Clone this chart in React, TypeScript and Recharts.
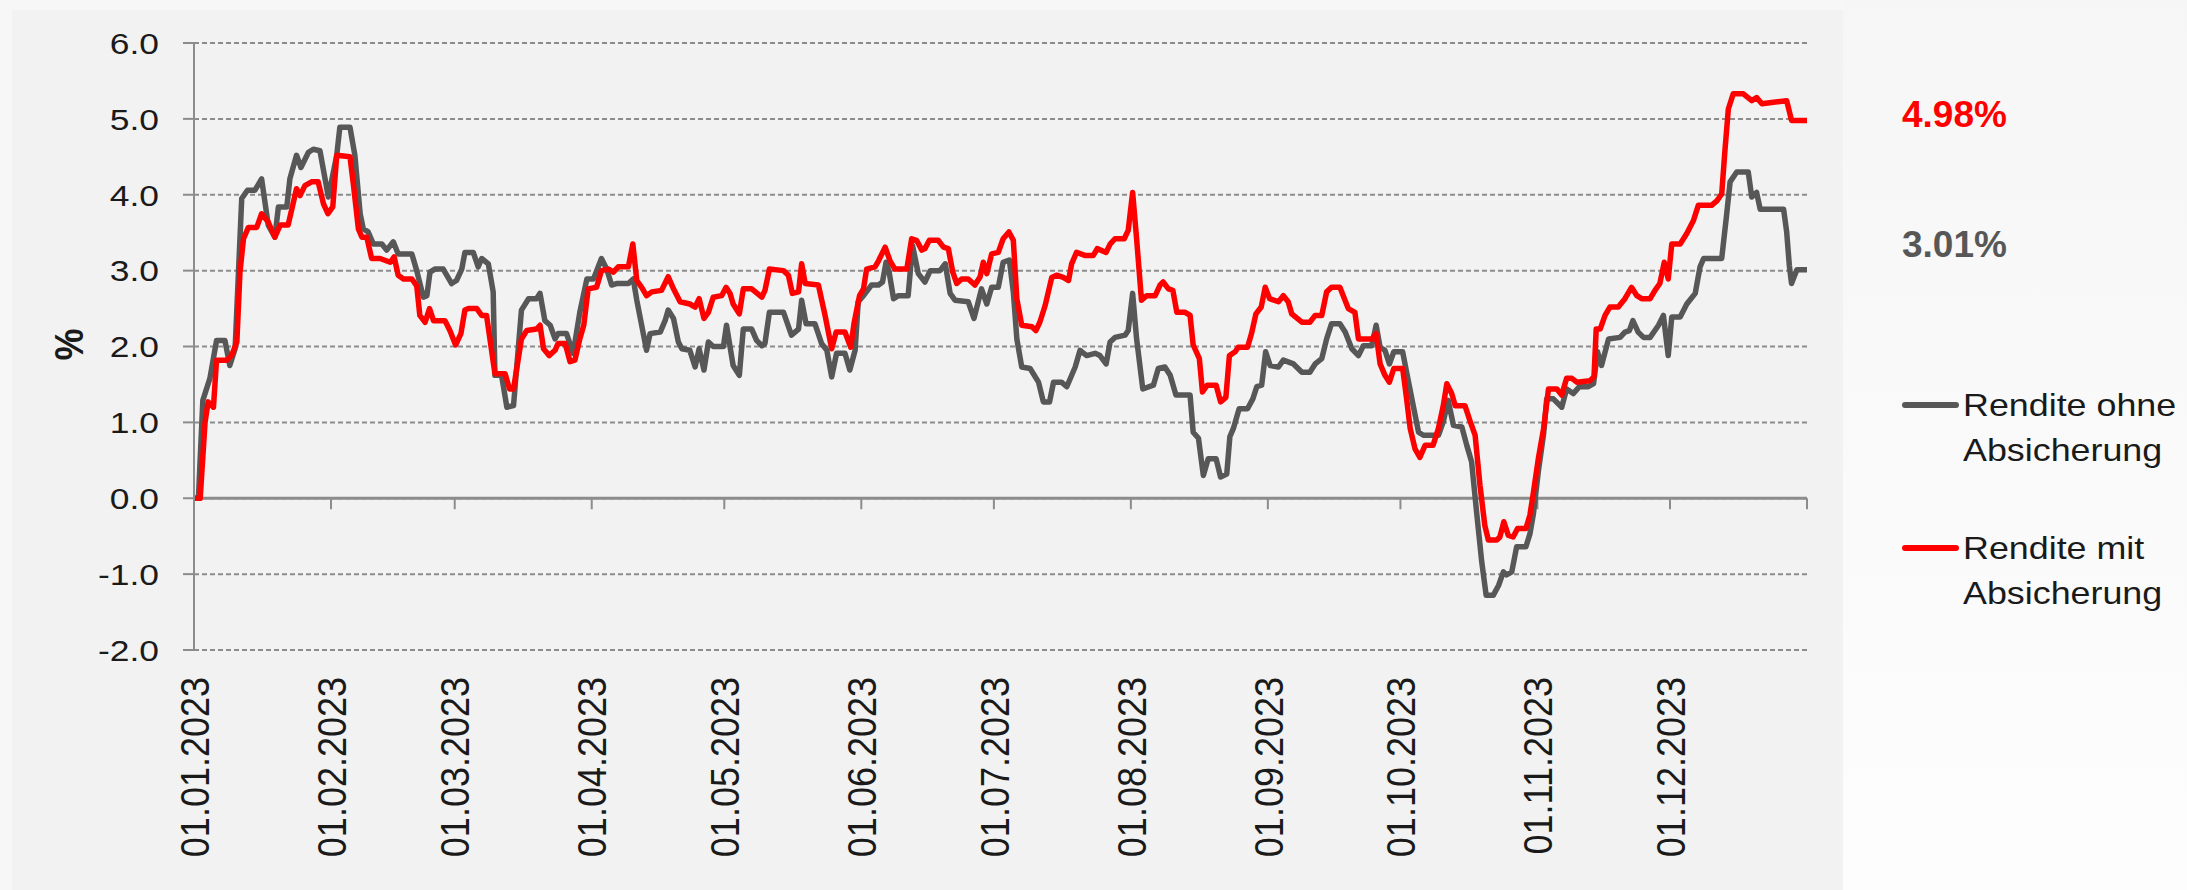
import React from 'react';
import { LineChart, Line, XAxis, YAxis, CartesianGrid, ReferenceLine } from 'recharts';

const FONT = '"Liberation Sans", Arial, Helvetica, sans-serif';

// x axis: day of year 2023, ticks at the first of each month
const monthTicks = [0, 31, 59, 90, 120, 151, 181, 212, 243, 273, 304, 334];
const monthLabels = [
  '01.01.2023', '01.02.2023', '01.03.2023', '01.04.2023', '01.05.2023', '01.06.2023',
  '01.07.2023', '01.08.2023', '01.09.2023', '01.10.2023', '01.11.2023', '01.12.2023',
];
const tickMarks = [...monthTicks, 365];
const yTicks = [-2, -1, 0, 1, 2, 3, 4, 5, 6];

const seriesNames = ['Rendite ohne Absicherung', 'Rendite mit Absicherung'];
const seriesColors = ['#575757', '#ff0000'];

// [day, return in %]
const ohne: [number, number][] = [
  [0, 0], [1, 0], [2, 1.29], [3.6, 1.58], [5.1, 2.08], [7, 2.08], [8.1, 1.75], [9.3, 1.97],
  [10.8, 3.95], [12.1, 4.06], [13.8, 4.06], [15.3, 4.21], [16.8, 3.6], [18.3, 3.44], [19.1, 3.84],
  [21, 3.84], [21.7, 4.21], [23.2, 4.52], [24.2, 4.36], [25.9, 4.56], [27, 4.6], [28.5, 4.58],
  [30.4, 3.97], [32.3, 4.52], [33, 4.89], [35.3, 4.89], [36.4, 4.52], [37.6, 3.75], [38.3, 3.55],
  [39.4, 3.51], [40.6, 3.35], [42.5, 3.35], [43.6, 3.27], [45.1, 3.38], [46.2, 3.22], [49.3, 3.22],
  [50.4, 3.0], [51.9, 2.65], [52.7, 2.67], [53.4, 2.98], [54.5, 3.02], [56.4, 3.02], [58.3, 2.83],
  [59.4, 2.87], [60.6, 3.02], [61.3, 3.24], [63.2, 3.24], [64.3, 3.05], [65.1, 3.16], [66.6, 3.09],
  [67.7, 2.72], [68.1, 1.62], [69.6, 1.62], [70.8, 1.2], [72.3, 1.22], [74.1, 2.48], [75.7, 2.63],
  [77.5, 2.63], [78.3, 2.7], [79.4, 2.34], [80.6, 2.28], [81.7, 2.1], [82.4, 2.17], [84.3, 2.17],
  [85.8, 1.91], [87.3, 2.45], [88.9, 2.89], [90.4, 2.89], [92.2, 3.16], [93.4, 3.02], [94.5, 2.81],
  [95.6, 2.83], [98.3, 2.83], [99.4, 2.89], [100.2, 2.61], [101.3, 2.28], [102.4, 1.95], [103.2, 2.17],
  [105.5, 2.19], [106.6, 2.34], [107.3, 2.48], [108.5, 2.37], [109.6, 2.06], [110.4, 1.97], [112.2, 1.95],
  [113.4, 1.73], [114.3, 1.97], [115.4, 1.69], [116.4, 2.06], [117.5, 2.0], [119.8, 2.0], [120.5, 2.28],
  [122.0, 1.75], [123.4, 1.62], [124.3, 2.23], [126.2, 2.23], [127.3, 2.08], [128.5, 2.01], [129.2, 2.04],
  [130.2, 2.45], [133.4, 2.45], [135.2, 2.15], [136.8, 2.23], [137.5, 2.61], [138.5, 2.3], [140.5, 2.3],
  [142.0, 2.04], [143.2, 1.95], [144.3, 1.6], [145.4, 1.91], [147.3, 1.91], [148.4, 1.69], [149.6, 1.95],
  [150.3, 2.59], [151.5, 2.67], [153.3, 2.81], [154.9, 2.81], [155.8, 2.85], [156.6, 3.11], [157.3, 2.98],
  [158.3, 2.63], [159.4, 2.67], [161.6, 2.67], [162.6, 3.33], [163.9, 2.96], [165.4, 2.85], [166.6, 3.0],
  [168.8, 3.0], [170.0, 3.09], [171.1, 2.7], [172.2, 2.61], [175.2, 2.59], [176.5, 2.37], [178.2, 2.76],
  [179.4, 2.56], [180.5, 2.78], [182.0, 2.78], [183.1, 3.11], [184.5, 3.14], [185.4, 2.72], [186.2, 2.1],
  [187.3, 1.73], [189.2, 1.71], [191.1, 1.53], [192.2, 1.27], [193.6, 1.27], [194.5, 1.53], [196.3, 1.53],
  [197.5, 1.47], [199.4, 1.73], [200.5, 1.95], [202.0, 1.88], [203.9, 1.91], [205.0, 1.88], [206.4, 1.77],
  [207.3, 2.06], [208.4, 2.12], [210.7, 2.15], [211.4, 2.21], [212.4, 2.7], [213.3, 2.1], [214.7, 1.44],
  [217.1, 1.49], [218.2, 1.71], [219.7, 1.73], [220.9, 1.62], [222.2, 1.36], [225.4, 1.36], [226.1, 0.87],
  [227.3, 0.79], [228.4, 0.3], [229.5, 0.52], [231.3, 0.52], [232.3, 0.28], [233.7, 0.32], [234.4, 0.81],
  [235.2, 0.92], [236.5, 1.18], [238.4, 1.18], [239.6, 1.31], [240.5, 1.47], [241.6, 1.49], [242.5, 1.93],
  [243.5, 1.75], [245.4, 1.73], [246.5, 1.82], [248.8, 1.77], [250.7, 1.66], [252.5, 1.66], [253.7, 1.77],
  [255.2, 1.84], [256.3, 2.1], [257.4, 2.3], [259.3, 2.3], [260.5, 2.19], [262.0, 1.97], [263.5, 1.88],
  [264.6, 2.01], [266.5, 2.01], [267.5, 2.28], [268.4, 1.99], [269.5, 1.95], [270.5, 1.77], [271.5, 1.93],
  [273.5, 1.93], [274.4, 1.66], [275.9, 1.22], [277.1, 0.87], [278.2, 0.83], [281.6, 0.83], [282.7, 1.01],
  [283.8, 1.29], [285.0, 0.96], [286.9, 0.94], [288.0, 0.7], [289.1, 0.48], [290.3, -0.22], [291.4, -0.84],
  [292.4, -1.28], [294.0, -1.28], [295.2, -1.15], [296.3, -0.97], [297.0, -1.01], [298.2, -0.97], [299.3, -0.64],
  [301.4, -0.64], [302.3, -0.47], [303.1, -0.2], [304.2, 0.35], [305.4, 0.85], [306.1, 1.31], [307.6, 1.31],
  [309.5, 1.2], [310.6, 1.44], [312.1, 1.38], [313.5, 1.47], [315.5, 1.47], [316.7, 1.51], [317.6, 1.93],
  [318.5, 1.75], [320.1, 2.1], [322.7, 2.12], [323.8, 2.19], [324.8, 2.21], [325.6, 2.34], [326.8, 2.19],
  [328.0, 2.12], [329.5, 2.12], [331.4, 2.28], [332.5, 2.41], [333.6, 1.88], [334.4, 2.39], [336.3, 2.39],
  [337.8, 2.56], [339.7, 2.7], [340.8, 3.05], [341.6, 3.16], [345.7, 3.16], [346.8, 3.73], [347.6, 4.17],
  [349.1, 4.3], [351.7, 4.3], [352.5, 3.97], [353.6, 4.03], [354.4, 3.81], [359.7, 3.81], [360.4, 3.51],
  [361.0, 3.07], [361.5, 2.83], [362.7, 3.01], [365, 3.01],
];

const mit: [number, number][] = [
  [0, 0], [1.4, 0], [2.5, 1.0], [3.2, 1.27], [4.4, 1.2], [5.1, 1.82], [7.4, 1.82], [8.5, 1.88],
  [9.7, 2.06], [10.4, 2.98], [11.2, 3.42], [12.3, 3.57], [14.2, 3.57], [15.3, 3.75], [16.8, 3.64],
  [18.3, 3.44], [19.5, 3.6], [21.3, 3.6], [23.2, 4.08], [24.0, 3.99], [25.1, 4.12], [26.6, 4.17],
  [28.1, 4.17], [29.3, 3.88], [30.3, 3.75], [31.4, 3.84], [32.3, 4.52], [35.3, 4.5], [36.1, 4.12],
  [37.2, 3.55], [38.0, 3.44], [39.1, 3.44], [40.2, 3.16], [42.1, 3.16], [44.4, 3.11], [45.3, 3.18],
  [46.2, 2.94], [47.4, 2.89], [49.3, 2.89], [50.4, 2.8], [51.1, 2.41], [52.3, 2.32], [53.3, 2.5],
  [54.2, 2.34], [56.8, 2.34], [57.9, 2.21], [59.2, 2.02], [60.4, 2.17], [61.3, 2.48], [62.1, 2.5],
  [64.0, 2.5], [65.1, 2.41], [66.2, 2.41], [68.1, 1.64], [70.4, 1.64], [71.4, 1.44], [72.3, 1.44],
  [74.1, 2.1], [75.3, 2.21], [77.5, 2.23], [78.3, 2.28], [79.1, 1.97], [80.4, 1.88], [81.7, 1.95],
  [82.4, 2.04], [84.0, 2.04], [85.1, 1.8], [86.2, 1.82], [87.3, 2.1], [88.2, 2.28], [89.2, 2.76],
  [91.1, 2.78], [92.2, 3.0], [93.8, 3.02], [94.9, 2.98], [96.0, 3.05], [98.3, 3.05], [99.3, 3.35],
  [100.2, 2.87], [101.3, 2.78], [102.4, 2.67], [103.6, 2.72], [105.8, 2.74], [107.3, 2.92], [108.5, 2.76],
  [110.0, 2.59], [112.2, 2.56], [113.4, 2.52], [114.3, 2.63], [115.4, 2.37], [116.4, 2.45], [117.5, 2.65],
  [119.4, 2.67], [120.4, 2.78], [121.3, 2.7], [122.0, 2.56], [123.4, 2.43], [124.3, 2.76], [126.2, 2.76],
  [128.5, 2.65], [129.2, 2.74], [130.2, 3.02], [133.4, 3.0], [134.5, 2.94], [135.4, 2.7], [136.8, 2.72],
  [137.5, 3.09], [138.3, 2.83], [141.3, 2.81], [142.8, 2.41], [144.3, 1.97], [145.3, 2.19], [147.3, 2.19],
  [148.6, 1.99], [149.4, 2.32], [150.6, 2.67], [151.5, 2.76], [152.2, 3.02], [154.1, 3.05], [154.9, 3.13],
  [156.4, 3.31], [157.5, 3.13], [158.6, 3.02], [161.3, 3.02], [162.4, 3.42], [163.5, 3.4], [164.7, 3.27],
  [165.4, 3.29], [166.4, 3.4], [168.4, 3.4], [169.6, 3.31], [170.7, 3.29], [171.7, 2.98], [172.6, 2.83],
  [173.7, 2.89], [175.2, 2.89], [176.7, 2.81], [177.9, 2.92], [178.6, 3.11], [179.4, 2.96], [180.5, 3.22],
  [182.0, 3.24], [183.1, 3.42], [184.4, 3.51], [185.4, 3.4], [186.2, 2.63], [187.3, 2.28], [189.6, 2.26],
  [190.5, 2.21], [191.4, 2.32], [192.6, 2.54], [194.1, 2.91], [195.2, 2.94], [196.7, 2.91], [197.9, 2.87],
  [198.6, 3.09], [199.7, 3.24], [201.6, 3.2], [203.5, 3.2], [204.4, 3.29], [206.4, 3.24], [207.3, 3.35],
  [208.4, 3.42], [210.5, 3.42], [211.4, 3.53], [212.4, 4.03], [213.3, 3.42], [214.4, 2.61], [215.6, 2.67],
  [217.5, 2.67], [218.6, 2.81], [219.3, 2.85], [220.5, 2.76], [221.5, 2.74], [222.4, 2.45], [224.3, 2.45],
  [225.4, 2.41], [226.1, 2.02], [227.5, 1.84], [228.2, 1.4], [229.3, 1.49], [231.3, 1.49], [232.3, 1.27],
  [233.5, 1.33], [234.3, 1.88], [235.6, 1.93], [236.3, 1.99], [238.4, 1.99], [239.3, 2.17], [240.3, 2.43],
  [241.5, 2.52], [242.4, 2.78], [243.4, 2.63], [245.4, 2.59], [246.5, 2.67], [247.6, 2.59], [248.4, 2.43],
  [250.7, 2.32], [252.5, 2.32], [253.7, 2.41], [255.2, 2.41], [256.3, 2.72], [257.4, 2.78], [259.3, 2.78],
  [261.2, 2.5], [262.7, 2.45], [263.5, 2.1], [266.5, 2.1], [267.5, 2.17], [268.4, 1.77], [269.5, 1.62],
  [270.5, 1.53], [271.5, 1.71], [273.5, 1.71], [274.4, 1.31], [275.2, 0.92], [276.3, 0.65], [277.4, 0.54],
  [278.6, 0.7], [280.4, 0.7], [281.6, 0.92], [282.7, 1.22], [283.5, 1.51], [284.6, 1.38], [285.4, 1.22],
  [287.6, 1.22], [288.8, 1.01], [289.9, 0.83], [291.0, 0.17], [292.1, -0.36], [292.9, -0.55], [294.8, -0.55],
  [295.5, -0.51], [296.4, -0.31], [297.4, -0.49], [298.5, -0.51], [299.5, -0.4], [301.4, -0.4], [302.3, -0.22],
  [303.1, 0.08], [304.2, 0.52], [305.4, 0.92], [306.5, 1.44], [308.4, 1.44], [309.5, 1.36], [310.6, 1.58],
  [311.8, 1.58], [312.9, 1.53], [315.9, 1.55], [316.8, 1.6], [317.3, 2.23], [318.2, 2.23], [319.3, 2.41],
  [320.4, 2.52], [322.3, 2.52], [323.8, 2.63], [325.3, 2.78], [326.5, 2.67], [327.6, 2.63], [329.5, 2.63],
  [330.6, 2.74], [331.7, 2.83], [332.7, 3.11], [333.6, 2.89], [334.4, 3.35], [336.3, 3.35], [337.8, 3.49],
  [339.3, 3.66], [340.4, 3.86], [343.4, 3.86], [344.6, 3.92], [345.7, 4.01], [346.4, 4.56], [347.2, 5.13],
  [348.3, 5.33], [350.6, 5.33], [352.5, 5.24], [353.6, 5.28], [354.8, 5.2], [357.4, 5.22], [360.4, 5.24],
  [361.5, 4.98], [365, 4.98],
];

const series = [ohne, mit];

const YTick = (props: any) => {
  const { x, y, payload } = props;
  return (
    <g transform={`translate(${x},${y})`}>
      <text transform="scale(1.18,1)" textAnchor="end" dy="0.36em" fontSize={30} fill="#1a1a1a" fontFamily={FONT}>
        {Number(payload.value).toFixed(1)}
      </text>
    </g>
  );
};

const XTick = (props: any) => {
  const { x, y, payload } = props;
  const label = monthLabels[monthTicks.indexOf(payload.value)];
  return (
    <g transform={`translate(${x},${y})`}>
      <text transform="scale(1.13,1) rotate(-90)" textAnchor="end" dx={-27} dy="0.36em" fontSize={36} fill="#1a1a1a" fontFamily={FONT}>
        {label}
      </text>
    </g>
  );
};

const AxisTitle = (props: any) => {
  const { viewBox } = props;
  const cx = viewBox.x + 68;
  const cy = viewBox.y + viewBox.height / 2 - 2;
  return (
    <g transform={`translate(${cx},${cy})`}>
      <text transform="scale(1.15,1) rotate(-90)" textAnchor="middle" dy="0.36em" fontSize={36} fontWeight="bold" fill="#1a1a1a" fontFamily={FONT}>
        %
      </text>
    </g>
  );
};

const App = () => {
  const lineData = series.map((s) => s.map(([d, v]) => ({ d, v })));
  const lastValues = series.map((s) => s[s.length - 1][1]);
  const valueTops = [95, 225];
  const legendTops = [405, 548];

  return (
    <div style={{ position: 'absolute', left: 0, top: 0, width: 2187, height: 890, background: '#f7f7f7', overflow: 'hidden', fontFamily: FONT }}>
      <div style={{ position: 'absolute', left: 12, top: 10, width: 1831, height: 880, background: '#f2f2f2' }} />
      <div style={{ position: 'absolute', left: 1843, top: 0, width: 344, height: 890, background: 'linear-gradient(to bottom, #f6f6f6, #fdfdfd)' }} />

      <div style={{ position: 'absolute', left: 0, top: 0 }}>
        <LineChart width={2187} height={890} margin={{ top: 43, right: 380, bottom: 0, left: 0 }}>
          <CartesianGrid vertical={false} stroke="#8c8c8c" strokeWidth={2} strokeDasharray="5 3" />
          <XAxis
            type="number"
            dataKey="d"
            domain={[0, 365]}
            ticks={monthTicks}
            interval={0}
            height={240}
            axisLine={false}
            tickLine={false}
            tickSize={0}
            tickMargin={0}
            tick={<XTick />}
          />
          <YAxis
            type="number"
            domain={[-2, 6]}
            ticks={yTicks}
            interval={0}
            width={194}
            tickSize={11}
            tickMargin={24}
            axisLine={{ stroke: '#8c8c8c', strokeWidth: 2 }}
            tickLine={{ stroke: '#8c8c8c', strokeWidth: 2 }}
            tick={<YTick />}
            label={<AxisTitle />}
          />
          <ReferenceLine y={0} stroke="#8c8c8c" strokeWidth={3} />
          {tickMarks.map((d) => (
            <ReferenceLine key={d} segment={[{ x: d, y: 0 }, { x: d, y: -0.145 }]} stroke="#8c8c8c" strokeWidth={2} />
          ))}
          {lineData.map((data, i) => (
            <Line
              key={seriesNames[i]}
              data={data}
              dataKey="v"
              name={seriesNames[i]}
              type="linear"
              stroke={seriesColors[i]}
              strokeWidth={5.5}
              strokeLinejoin="round"
              dot={false}
              activeDot={false}
              isAnimationActive={false}
            />
          ))}
        </LineChart>
      </div>

      {lastValues.map((v, i) => (
        <div key={`val-${i}`} style={{ position: 'absolute', left: 1902, top: valueTops[1 - i], height: 40, lineHeight: '40px', fontSize: 37, fontWeight: 'bold', color: seriesColors[i], whiteSpace: 'nowrap' }}>
          {`${v.toFixed(2)}%`}
        </div>
      ))}

      {seriesNames.map((name, i) => (
        <div key={`leg-${i}`}>
          <div style={{ position: 'absolute', left: 1902, top: legendTops[i] - 3, width: 57, height: 6, borderRadius: 3, background: seriesColors[i] }} />
          <div style={{ position: 'absolute', left: 1963, top: legendTops[i] - 22.5, width: 200, fontSize: 32, lineHeight: '45px', color: '#1a1a1a', transform: 'scaleX(1.12)', transformOrigin: 'left top' }}>
            {name}
          </div>
        </div>
      ))}
    </div>
  );
};

export default App;
